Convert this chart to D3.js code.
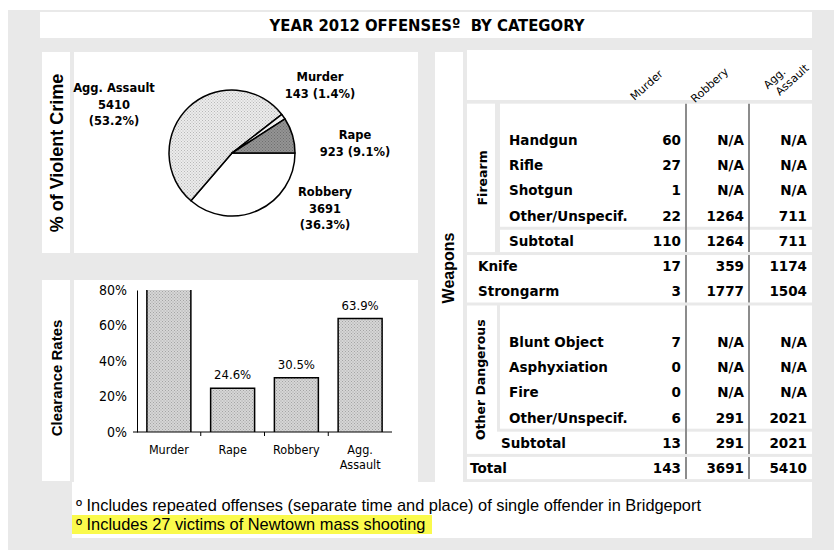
<!DOCTYPE html>
<html>
<head>
<meta charset="utf-8">
<script src="https://cdn.jsdelivr.net/npm/d3@7"></script>
<style>
  body { margin: 0; background: #fff; }
  svg { display: block; }
</style>
</head>
<body>
<svg id="chart"></svg>
<script>
const width = 834, height = 550;

// ---- data ----
const titleText = "YEAR 2012 OFFENSES\u00ba\u00a0\u00a0BY CATEGORY";

// pie, in drawing order (clockwise from 3 o'clock)
const pieNames = ["Robbery", "Agg. Assault", "Murder", "Rape"];
const pieCounts = [3691, 5410, 143, 923];
const piePcts = ["36.3%", "53.2%", "1.4%", "9.1%"];

// clearance rates
const barCats = ["Murder", "Rape", "Robbery", "Agg. Assault"];
const barRates = [0.80, 0.246, 0.305, 0.639];   // murder runs off the top of the axis
const barLabels = ["", "24.6%", "30.5%", "63.9%"];
const rateTicks = [0, 0.2, 0.4, 0.6, 0.8];

// weapons table
const weaponCols = ["Murder", "Robbery", "Agg. Assault"];
const firearmRows = ["Handgun", "Rifle", "Shotgun", "Other/Unspecif.", "Subtotal"];
const firearmMurder = [60, 27, 1, 22, 110];
const firearmRobbery = ["N/A", "N/A", "N/A", 1264, 1264];
const firearmAgg = ["N/A", "N/A", "N/A", 711, 711];
const plainRows = ["Knife", "Strongarm"];
const plainMurder = [17, 3];
const plainRobbery = [359, 1777];
const plainAgg = [1174, 1504];
const dangerRows = ["Blunt Object", "Asphyxiation", "Fire", "Other/Unspecif.", "Subtotal"];
const dangerMurder = [7, 0, 0, 6, 13];
const dangerRobbery = ["N/A", "N/A", "N/A", 291, 291];
const dangerAgg = ["N/A", "N/A", "N/A", 2021, 2021];
const totalRow = [143, 3691, 5410];

const footnotes = [
  "\u00ba Includes repeated offenses (separate time and place) of single offender in Bridgeport",
  "\u00ba Includes 27 victims of Newtown mass shooting"
];

// ---- svg ----
const svg = d3.select("#chart").attr("width", width).attr("height", height);

const defs = svg.append("defs");
function stipple(id, base, dot) {
  const p = defs.append("pattern").attr("id", id)
    .attr("patternUnits", "userSpaceOnUse").attr("width", 3).attr("height", 3);
  p.append("rect").attr("width", 3).attr("height", 3).attr("fill", base);
  p.append("rect").attr("x", 0).attr("y", 0).attr("width", 1).attr("height", 1).attr("fill", dot);
  p.append("rect").attr("x", 1.5).attr("y", 1.5).attr("width", 1).attr("height", 1).attr("fill", dot);
}
stipple("dotLight", "#ececec", "#b8b8b8");
stipple("dotBar", "#d6d6d6", "#a4a4a4");
stipple("dotDark", "#949494", "#6e6e6e");

const gray = "#e9e9e9";
svg.append("rect").attr("x", 8).attr("y", 10).attr("width", width - 8).attr("height", height - 10).attr("fill", gray);

function panel(x, y, w, h) {
  svg.append("rect").attr("x", x).attr("y", y).attr("width", w).attr("height", h).attr("fill", "#fff");
}

// title
panel(40, 12, 772, 26);
svg.append("text").attr("x", 427).attr("y", 31)
  .attr("text-anchor", "middle")
  .style("font-family", "'DejaVu Sans Condensed', 'DejaVu Sans'")
  .style("font-weight", "bold").style("font-size", "16.5px")
  .text(titleText);

// ---- pie ----
panel(42, 52, 28, 201);
panel(74, 52, 344, 201);
svg.append("text")
  .attr("transform", "translate(63,153) rotate(-90)")
  .attr("text-anchor", "middle")
  .style("font-family", "'Liberation Sans', Arial").style("font-weight", "bold").style("font-size", "18px")
  .text("% of Violent Crime");

const pieFill = { "Robbery": "#ffffff", "Agg. Assault": "url(#dotLight)", "Murder": "#f2f2f2", "Rape": "url(#dotDark)" };
const labelOffset = { "Robbery": [93, 43], "Agg. Assault": [-118, -61], "Murder": [88, -72], "Rape": [123, -14] };

const pieData = pieNames.map((n, i) => ({ name: n, count: pieCounts[i], pct: piePcts[i] }));
const pie = d3.pie().sort(null).value(d => d.count)
  .startAngle(Math.PI / 2).endAngle(Math.PI / 2 + 2 * Math.PI);
const arc = d3.arc().innerRadius(0).outerRadius(63);
const pieG = svg.append("g").attr("transform", "translate(232,153)");
pieG.selectAll("path").data(pie(pieData)).join("path")
  .attr("d", arc)
  .attr("fill", d => pieFill[d.data.name])
  .attr("stroke", "#000").attr("stroke-width", 1.5).attr("stroke-linejoin", "round");

const pieLab = pieG.selectAll("text.lab").data(pieData).join("text")
  .attr("class", "lab")
  .attr("text-anchor", "middle")
  .style("font-family", "'DejaVu Sans', Verdana").style("font-weight", "bold").style("font-size", "11.5px")
  .attr("x", d => labelOffset[d.name][0])
  .attr("y", d => labelOffset[d.name][1]);
pieLab.each(function(d) {
  const lines = (d.name === "Murder" || d.name === "Rape")
    ? [d.name, d.count + " (" + d.pct + ")"]
    : [d.name, String(d.count), "(" + d.pct + ")"];
  d3.select(this).selectAll("tspan").data(lines).join("tspan")
    .attr("x", labelOffset[d.name][0])
    .attr("dy", (l, i) => i ? 16.5 : 0)
    .text(l => l);
});

// ---- clearance bars ----
panel(42, 280, 28, 201);
panel(74, 280, 344, 210);
svg.append("text")
  .attr("transform", "translate(62,378) rotate(-90)")
  .attr("text-anchor", "middle")
  .style("font-family", "'Liberation Sans', Arial").style("font-weight", "bold").style("font-size", "15px")
  .text("Clearance Rates");

const x = d3.scaleBand().domain(barCats).range([137, 392]).paddingInner(0.31).paddingOuter(0.155);
const y = d3.scaleLinear().domain([0, 0.8]).range([432, 290]);
const barFont = "'DejaVu Sans Condensed', 'DejaVu Sans'";

const yAxis = svg.append("g").attr("transform", "translate(137,0)")
  .call(d3.axisLeft(y).tickValues(rateTicks).tickFormat(d3.format(".0%")).tickSize(0).tickPadding(10));
yAxis.select(".domain").attr("stroke", "#000");
yAxis.selectAll("text").style("font-family", barFont).style("font-size", "14px").attr("fill", "#000");

const barG = svg.append("g");
barG.selectAll("rect").data(barCats).join("rect")
  .attr("x", d => x(d))
  .attr("y", (d, i) => y(barRates[i]))
  .attr("width", x.bandwidth())
  .attr("height", (d, i) => y(0) - y(barRates[i]))
  .attr("fill", "url(#dotBar)");
// outline; a bar that reaches the axis top is left open there
barG.selectAll("path").data(barCats).join("path")
  .attr("d", (d, i) => {
    const x0 = x(d), x1 = x(d) + x.bandwidth(), top = y(barRates[i]), b = y(0);
    return barRates[i] >= y.domain()[1]
      ? `M${x0},${b}V${top}M${x1},${top}V${b}`
      : `M${x0},${b}V${top}H${x1}V${b}`;
  })
  .attr("fill", "none").attr("stroke", "#000").attr("stroke-width", 1.5);

svg.append("g").selectAll("text").data(barCats).join("text")
  .attr("x", d => x(d) + x.bandwidth() / 2)
  .attr("y", (d, i) => y(barRates[i]) - 9)
  .attr("text-anchor", "middle")
  .style("font-family", barFont).style("font-size", "13px")
  .text((d, i) => barLabels[i]);

// x axis line with small ticks between categories
svg.append("line").attr("x1", 133).attr("x2", 392).attr("y1", y(0)).attr("y2", y(0))
  .attr("stroke", "#000").attr("stroke-width", 1);
svg.append("g").selectAll("line").data(barCats.slice(1)).join("line")
  .attr("x1", d => x(d) - x.step() * x.paddingInner() / 2)
  .attr("x2", d => x(d) - x.step() * x.paddingInner() / 2)
  .attr("y1", y(0)).attr("y2", y(0) + 4)
  .attr("stroke", "#000");

const xLab = svg.append("g").selectAll("text").data(barCats).join("text")
  .attr("text-anchor", "middle")
  .style("font-family", barFont).style("font-size", "12.5px")
  .attr("y", 454);
xLab.each(function(d) {
  const parts = d === "Agg. Assault" ? ["Agg.", "Assault"] : [d];
  d3.select(this).selectAll("tspan").data(parts).join("tspan")
    .attr("x", x(d) + x.bandwidth() / 2)
    .attr("dy", (p, i) => i ? 15 : 0)
    .text(p => p);
});

// ---- footnotes ----
panel(72, 482, 740, 56);
svg.append("rect").attr("x", 72).attr("y", 515).attr("width", 360).attr("height", 19).attr("fill", "#fafa4c");
svg.append("g").selectAll("text").data(footnotes).join("text")
  .attr("x", 76).attr("y", (d, i) => 511 + i * 19)
  .style("font-family", "'Liberation Sans', Arial").style("font-size", "16.4px")
  .text(d => d);

// ---- weapons table ----
panel(435, 52, 28, 430);
svg.append("text")
  .attr("transform", "translate(454,268) rotate(-90)")
  .attr("text-anchor", "middle")
  .style("font-family", "'Liberation Sans', Arial").style("font-weight", "bold").style("font-size", "16px")
  .text("Weapons");

panel(467, 50, 345, 50);
const col = d3.scaleBand().domain(weaponCols).range([623, 812]);
const head = svg.append("g").selectAll("text").data(weaponCols).join("text")
  .attr("transform", d => `translate(${col(d) + col.bandwidth() / 2 + (d === "Agg. Assault" ? 1 : -1)},${d === "Agg. Assault" ? 77 : 84}) rotate(-42)`)
  .attr("text-anchor", "middle")
  .style("font-family", "'DejaVu Sans'").style("font-size", "11px");
head.each(function(d) {
  const parts = d === "Agg. Assault" ? ["Agg.", "Assault"] : [d];
  d3.select(this).selectAll("tspan").data(parts).join("tspan")
    .attr("x", (p, i) => i ? 6 : -6)
    .attr("dy", (p, i) => i ? 13 : 0)
    .text(p => p);
});

// row slots: 0 blank, 1-5 firearm, 6-7 knife/strongarm, 8 blank, 9-13 other dangerous, 14 total
const rowY = d3.scaleLinear().domain([0, 14]).range([114.8, 468]);
const half = (rowY(1) - rowY(0)) / 2;
const tableFont = "'DejaVu Sans', Verdana";

function block(x0, s0, s1) {
  panel(x0, rowY(s0) - half + 1.5, 812 - x0, rowY(s1) - rowY(s0) + 2 * half - 3);
}
function separators(s0, s1) {
  svg.append("g").selectAll("line").data(weaponCols.slice(1)).join("line")
    .attr("x1", d => col(d)).attr("x2", d => col(d))
    .attr("y1", rowY(s0) - half + 1.5).attr("y2", rowY(s1) + half - 1.5)
    .attr("stroke", "#8c8c8c").attr("stroke-width", 2);
}
function rows(labels, cols, s0, labelX, subX) {
  const g = svg.append("g")
    .style("font-family", tableFont).style("font-weight", "bold").style("font-size", "13.5px");
  g.selectAll("text.lbl").data(labels).join("text").attr("class", "lbl")
    .attr("x", d => d === "Subtotal" && subX ? subX : labelX)
    .attr("y", (d, i) => rowY(s0 + i) + 5)
    .text(d => d);
  cols.forEach((vals, c) => {
    g.selectAll("text.c" + c).data(vals).join("text").attr("class", "c" + c)
      .attr("x", col(weaponCols[c]) + col.bandwidth() - 5)
      .attr("y", (d, i) => rowY(s0 + i) + 5)
      .attr("text-anchor", "end")
      .text(d => d);
  });
}
function sideLabel(text, s0, s1, xc) {
  svg.append("text")
    .attr("transform", `translate(${xc},${(rowY(s0) + rowY(s1)) / 2}) rotate(-90)`)
    .attr("text-anchor", "middle")
    .style("font-family", tableFont).style("font-weight", "bold").style("font-size", "12.5px")
    .text(text);
}
function subtotalLine(s) {
  svg.append("line").attr("x1", 500).attr("x2", 812)
    .attr("y1", rowY(s) - half).attr("y2", rowY(s) - half)
    .attr("stroke", gray).attr("stroke-width", 3);
}

// firearm
panel(467, rowY(0) - half + 1.5, 28, rowY(5) - rowY(0) + 2 * half - 3);
block(500, 0, 5);
subtotalLine(5);
separators(0, 5);
sideLabel("Firearm", 0, 5, 487);
rows(firearmRows, [firearmMurder, firearmRobbery, firearmAgg], 1, 509);

// knife / strongarm
block(467, 6, 7);
separators(6, 7);
rows(plainRows, [plainMurder, plainRobbery, plainAgg], 6, 478);

// other dangerous
panel(467, rowY(8) - half + 1.5, 30, rowY(13) - rowY(8) + 2 * half - 3);
block(500, 8, 12);
block(497, 13, 13);
separators(8, 13);
sideLabel("Other Dangerous", 8, 13, 485);
rows(dangerRows, [dangerMurder, dangerRobbery, dangerAgg], 9, 509, 501);

// total
block(467, 14, 14);
separators(14, 14);
rows(["Total"], [[totalRow[0]], [totalRow[1]], [totalRow[2]]], 14, 470);
</script>
</body>
</html>
